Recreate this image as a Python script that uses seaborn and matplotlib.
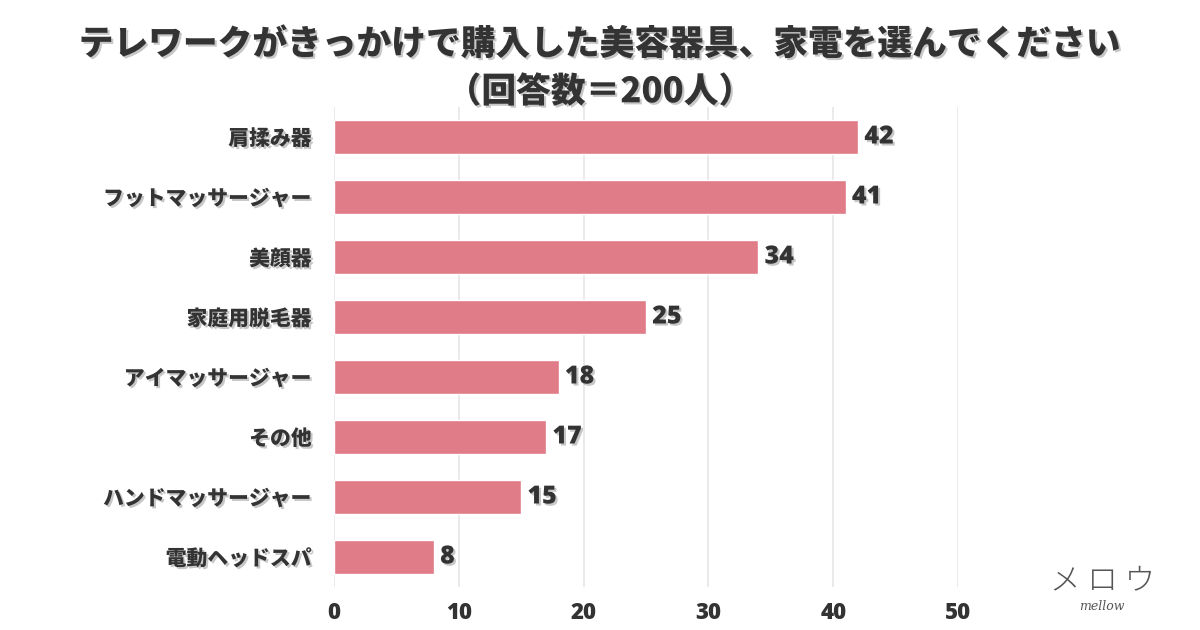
import matplotlib
matplotlib.use("Agg")
import matplotlib.pyplot as plt
import matplotlib.patheffects as pe
import seaborn as sns
import pandas as pd

categories = ["肩揉み器", "フットマッサージャー", "美顔器", "家庭用脱毛器",
              "アイマッサージャー", "その他", "ハンドマッサージャー", "電動ヘッドスパ"]
counts = [42, 41, 34, 25, 18, 17, 15, 8]
xticks = [0, 10, 20, 30, 40, 50]

title = "テレワークがきっかけで購入した美容器具、家電を選んでください\n（回答数＝200人）"

df = pd.DataFrame({"item": categories, "count": counts})

sns.set_theme(style="white")
plt.rcParams["font.family"] = ["Noto Sans CJK JP", "DejaVu Sans"]

dark = "#333333"
bar_color = "#E07C88"
shadow = [pe.withSimplePatchShadow(offset=(1.5, -1.5), shadow_rgbFace="#999999", alpha=0.55)]

fig = plt.figure(figsize=(12, 6.3), dpi=100)
ax = fig.add_axes([334 / 1200, 1 - 587 / 630, (958 - 334) / 1200, 480 / 630])

sns.barplot(data=df, x="count", y="item", color=bar_color, saturation=1,
            width=0.57, ax=ax, zorder=3)

ax.set_xlim(0, 50)
ax.set_ylim(7.5, -0.5)
ax.set_xticks(xticks)
ax.grid(axis="x", color="#e6e6e6", linewidth=1.2, zorder=0)
for s in ax.spines.values():
    s.set_visible(False)
ax.set_xlabel("")
ax.set_ylabel("")
ax.tick_params(axis="both", length=0)
ax.tick_params(axis="y", pad=16)
ax.tick_params(axis="x", pad=10)

for lab in ax.get_yticklabels():
    lab.set_fontsize(15)
    lab.set_fontweight("heavy")
    lab.set_color(dark)
    lab.set_path_effects(shadow)
for lab in ax.get_xticklabels():
    lab.set_fontsize(16)
    lab.set_fontweight("heavy")
    lab.set_color(dark)
    lab.set_family(["Open Sans", "DejaVu Sans"])

for i, v in enumerate(counts):
    ax.text(v + 0.5, i, str(v), va="center", ha="left", fontsize=18,
            fontweight="heavy", color=dark, family=["Open Sans", "DejaVu Sans"],
            path_effects=shadow, zorder=4)

fig.text(0.5, 1 - 68 / 630, title, ha="center", va="center", fontsize=25,
         fontweight="heavy", color=dark, linespacing=1.45, path_effects=shadow)

fig.text(1102 / 1200, 1 - 580 / 630, "メ ロ ウ", ha="center", va="center",
         fontsize=22, color="#555555", fontweight="light")
fig.text(1102 / 1200, 1 - 607 / 630, "mellow", ha="center", va="center",
         fontsize=9, color="#555555", style="italic", family=["DejaVu Serif"])

fig.savefig("out.png", dpi=100, facecolor="white")
